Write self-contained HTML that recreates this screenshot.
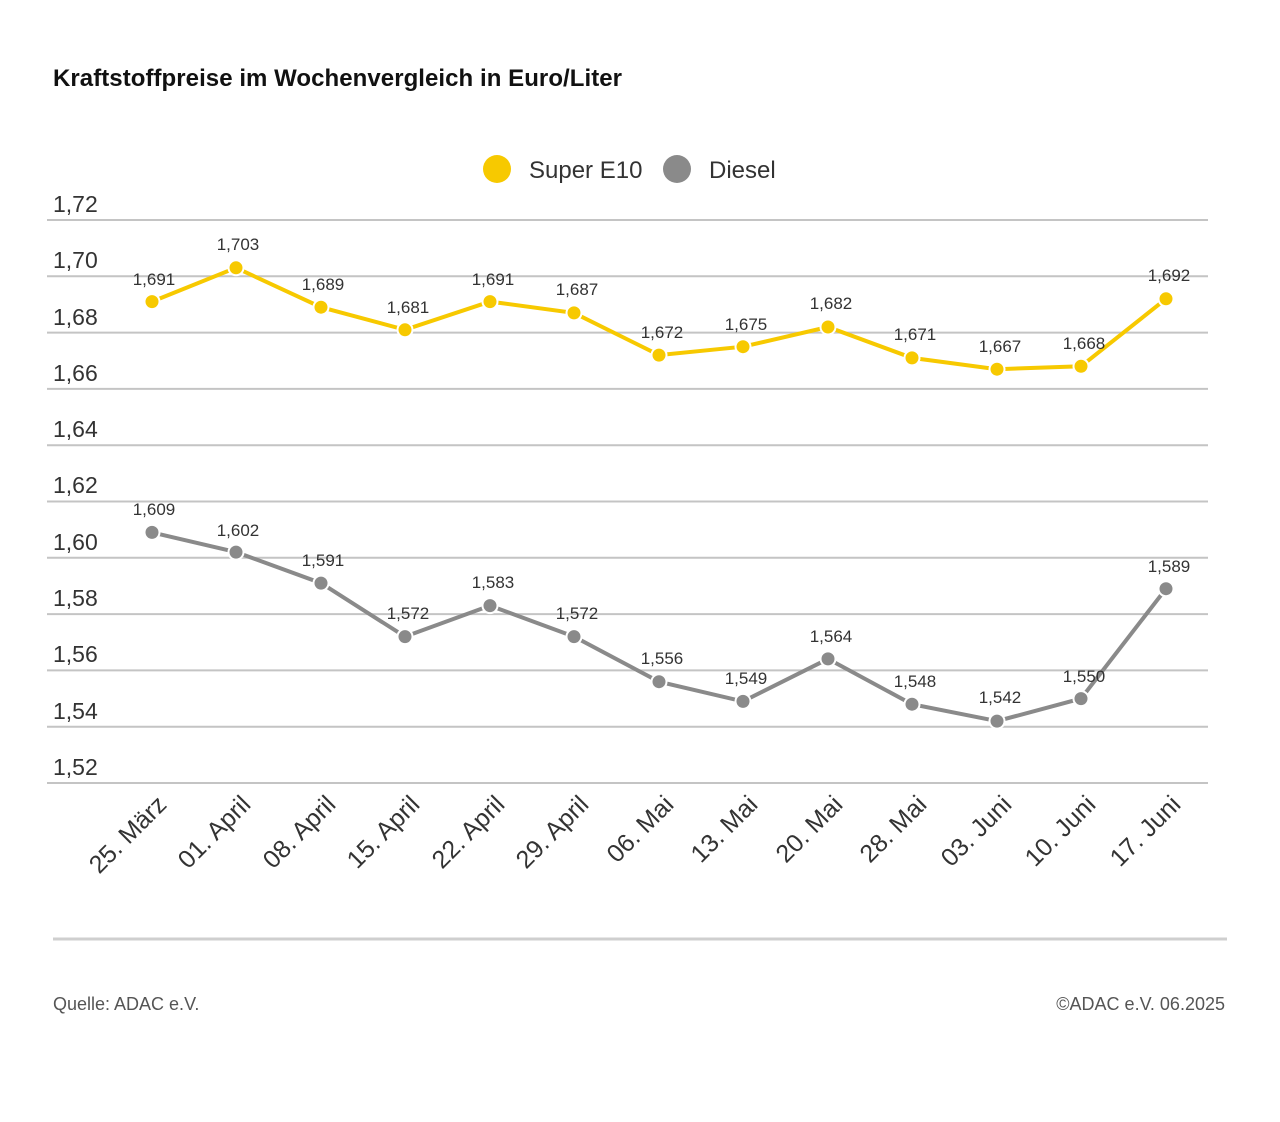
<!DOCTYPE html>
<html><head><meta charset="utf-8"><style>
body{margin:0;background:#fff;}
svg{display:block;font-family:"Liberation Sans",sans-serif;}
</style></head><body>
<svg width="1280" height="1122" viewBox="0 0 1280 1122">
<text x="53" y="86" font-size="24" font-weight="bold" fill="#111" textLength="569">Kraftstoffpreise im Wochenvergleich in Euro/Liter</text>
<circle cx="497" cy="169" r="14" fill="#f7c900"/>
<text x="529" y="178" font-size="24" fill="#333">Super E10</text>
<circle cx="677" cy="169" r="14" fill="#8a8a8a"/>
<text x="709" y="178" font-size="24" fill="#333">Diesel</text>
<g stroke="#c4c4c4" stroke-width="2">
<line x1="47" x2="1208" y1="220" y2="220"/><line x1="47" x2="1208" y1="276.3" y2="276.3"/>
<line x1="47" x2="1208" y1="332.6" y2="332.6"/><line x1="47" x2="1208" y1="388.9" y2="388.9"/>
<line x1="47" x2="1208" y1="445.2" y2="445.2"/><line x1="47" x2="1208" y1="501.5" y2="501.5"/>
<line x1="47" x2="1208" y1="557.8" y2="557.8"/><line x1="47" x2="1208" y1="614.1" y2="614.1"/>
<line x1="47" x2="1208" y1="670.4" y2="670.4"/><line x1="47" x2="1208" y1="726.7" y2="726.7"/>
<line x1="47" x2="1208" y1="783" y2="783"/>
</g>
<g font-size="23" fill="#333">
<text x="53" y="212">1,72</text><text x="53" y="268">1,70</text><text x="53" y="325">1,68</text>
<text x="53" y="381">1,66</text><text x="53" y="437">1,64</text><text x="53" y="493">1,62</text>
<text x="53" y="550">1,60</text><text x="53" y="606">1,58</text><text x="53" y="662">1,56</text>
<text x="53" y="719">1,54</text><text x="53" y="775">1,52</text>
</g>
<polyline fill="none" stroke="#f7c900" stroke-width="4" points="152,301.6 236,267.8 321,307.2 405,329.8 490,301.6 574,312.9 659,355.1 743,346.7 828,327.0 912,357.9 997,369.2 1081,366.3 1166,298.8"/>
<g fill="#f7c900" stroke="#fff" stroke-width="2">
<circle cx="152" cy="301.6" r="7.5"/><circle cx="236" cy="267.8" r="7.5"/><circle cx="321" cy="307.2" r="7.5"/><circle cx="405" cy="329.8" r="7.5"/><circle cx="490" cy="301.6" r="7.5"/><circle cx="574" cy="312.9" r="7.5"/><circle cx="659" cy="355.1" r="7.5"/><circle cx="743" cy="346.7" r="7.5"/><circle cx="828" cy="327.0" r="7.5"/><circle cx="912" cy="357.9" r="7.5"/><circle cx="997" cy="369.2" r="7.5"/><circle cx="1081" cy="366.3" r="7.5"/><circle cx="1166" cy="298.8" r="7.5"/>
</g>
<polyline fill="none" stroke="#8a8a8a" stroke-width="4" points="152,532.4 236,552.1 321,583.1 405,636.6 490,605.6 574,636.6 659,681.7 743,701.4 828,658.9 912,704.2 997,721.1 1081,698.6 1166,588.7"/>
<g fill="#8a8a8a" stroke="#fff" stroke-width="2">
<circle cx="152" cy="532.4" r="7.5"/><circle cx="236" cy="552.1" r="7.5"/><circle cx="321" cy="583.1" r="7.5"/><circle cx="405" cy="636.6" r="7.5"/><circle cx="490" cy="605.6" r="7.5"/><circle cx="574" cy="636.6" r="7.5"/><circle cx="659" cy="681.7" r="7.5"/><circle cx="743" cy="701.4" r="7.5"/><circle cx="828" cy="658.9" r="7.5"/><circle cx="912" cy="704.2" r="7.5"/><circle cx="997" cy="721.1" r="7.5"/><circle cx="1081" cy="698.6" r="7.5"/><circle cx="1166" cy="588.7" r="7.5"/>
</g>
<g font-size="17" fill="#333" text-anchor="middle">
<text x="154" y="285">1,691</text><text x="238" y="250">1,703</text><text x="323" y="290">1,689</text><text x="408" y="313">1,681</text><text x="493" y="285">1,691</text><text x="577" y="295">1,687</text><text x="662" y="338">1,672</text><text x="746" y="330">1,675</text><text x="831" y="309">1,682</text><text x="915" y="340">1,671</text><text x="1000" y="352">1,667</text><text x="1084" y="349">1,668</text><text x="1169" y="281">1,692</text>
<text x="154" y="515">1,609</text><text x="238" y="536">1,602</text><text x="323" y="566">1,591</text><text x="408" y="619">1,572</text><text x="493" y="588">1,583</text><text x="577" y="619">1,572</text><text x="662" y="664">1,556</text><text x="746" y="684">1,549</text><text x="831" y="642">1,564</text><text x="915" y="687">1,548</text><text x="1000" y="703">1,542</text><text x="1084" y="682">1,550</text><text x="1169" y="572">1,589</text>
</g>
<g font-size="25" fill="#333" text-anchor="end">
<text transform="translate(168,806) rotate(-45)">25. März</text>
<text transform="translate(252,806) rotate(-45)">01. April</text>
<text transform="translate(337,806) rotate(-45)">08. April</text>
<text transform="translate(421,806) rotate(-45)">15. April</text>
<text transform="translate(506,806) rotate(-45)">22. April</text>
<text transform="translate(590,806) rotate(-45)">29. April</text>
<text transform="translate(675,806) rotate(-45)">06. Mai</text>
<text transform="translate(759,806) rotate(-45)">13. Mai</text>
<text transform="translate(844,806) rotate(-45)">20. Mai</text>
<text transform="translate(928,806) rotate(-45)">28. Mai</text>
<text transform="translate(1013,806) rotate(-45)">03. Juni</text>
<text transform="translate(1097,806) rotate(-45)">10. Juni</text>
<text transform="translate(1182,806) rotate(-45)">17. Juni</text>
</g>
<line x1="53" x2="1227" y1="939" y2="939" stroke="#cfcfcf" stroke-width="3"/>
<text x="53" y="1010" font-size="18" fill="#555">Quelle: ADAC e.V.</text>
<text x="1225" y="1010" font-size="18" fill="#555" text-anchor="end">©ADAC e.V. 06.2025</text>
</svg>
</body></html>
